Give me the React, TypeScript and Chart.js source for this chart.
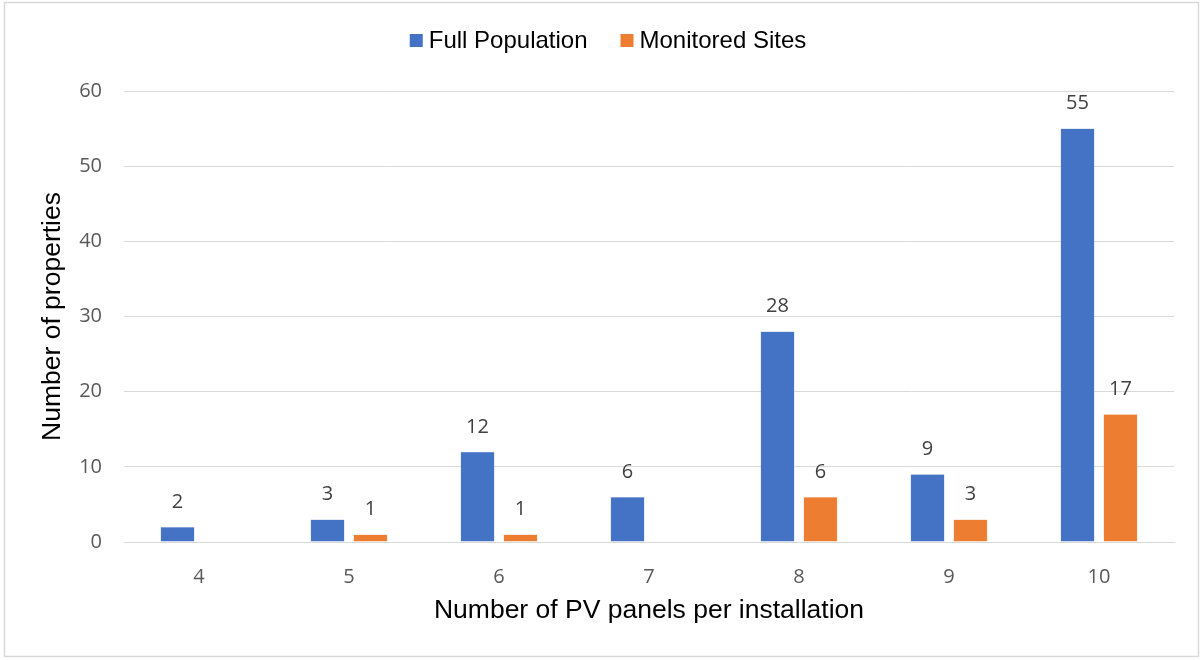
import React, { useEffect, useRef } from "react";
import { Chart, registerables } from "chart.js";

Chart.register(...registerables);

const categories = ["4", "5", "6", "7", "8", "9", "10"];
const fullPopulation = [2, 3, 12, 6, 28, 9, 55];
const monitoredSites: (number | null)[] = [null, 1, 1, null, 6, 3, 17];
const seriesNames = ["Full Population", "Monitored Sites"];
const seriesColors = ["#4472C4", "#ED7D31"];
const yTicks = { min: 0, max: 60, step: 10 };
const xTitle = "Number of PV panels per installation";
const yTitle = "Number of properties";

const framePlugin = {
  id: "frame",
  beforeDraw(chart: any) {
    const ctx = chart.ctx;
    ctx.save();
    ctx.fillStyle = "#ffffff";
    ctx.fillRect(0, 0, chart.width, chart.height);
    ctx.strokeStyle = "#d9d9d9";
    ctx.lineWidth = 1.5;
    ctx.strokeRect(4.5, 2.5, chart.width - 9, chart.height - 6);
    ctx.restore();
  },
};

const legendPlugin = {
  id: "customLegend",
  afterDraw(chart: any) {
    const ctx = chart.ctx;
    ctx.save();
    ctx.font = "24px 'Liberation Sans', Arial, sans-serif";
    ctx.textBaseline = "middle";
    const box = 13;
    const gapBoxText = 6;
    const gapItems = 33;
    const widths = seriesNames.map((n) => ctx.measureText(n).width);
    const total =
      widths.reduce((a, w) => a + box + gapBoxText + w, 0) + gapItems * (seriesNames.length - 1);
    let x = 608 - total / 2;
    const cy = 40.5;
    seriesNames.forEach((n, i) => {
      ctx.fillStyle = seriesColors[i];
      ctx.fillRect(x, cy - box / 2, box, box);
      x += box + gapBoxText;
      ctx.fillStyle = "#000000";
      ctx.textAlign = "left";
      ctx.fillText(n, x, cy + 1);
      x += widths[i] + gapItems;
    });
    ctx.restore();
  },
};

const dataLabelPlugin = {
  id: "dataLabels",
  afterDatasetsDraw(chart: any) {
    const ctx = chart.ctx;
    ctx.save();
    ctx.font = "20px 'Open Sans', 'Liberation Sans', sans-serif";
    ctx.fillStyle = "#404040";
    ctx.textAlign = "center";
    ctx.textBaseline = "middle";
    chart.data.datasets.forEach((ds: any, di: number) => {
      const meta = chart.getDatasetMeta(di);
      meta.data.forEach((bar: any, i: number) => {
        const v = ds.data[i];
        if (v === null || v === undefined) return;
        ctx.fillText(String(v), bar.x, bar.y - 25);
      });
    });
    ctx.restore();
  },
};

export default function App() {
  const ref = useRef<HTMLCanvasElement | null>(null);

  useEffect(() => {
    document.body.style.margin = "0";
    if (!ref.current) return;
    const chart = new Chart(ref.current, {
      type: "bar",
      data: {
        labels: categories,
        datasets: [
          {
            label: seriesNames[0],
            data: fullPopulation,
            backgroundColor: seriesColors[0],
            borderColor: "#8faadc",
            borderWidth: 0.5,
            categoryPercentage: 0.573,
            barPercentage: 0.79,
          },
          {
            label: seriesNames[1],
            data: monitoredSites,
            backgroundColor: seriesColors[1],
            borderColor: "#f4b183",
            borderWidth: 0.5,
            categoryPercentage: 0.573,
            barPercentage: 0.79,
          },
        ],
      },
      options: {
        responsive: false,
        animation: false,
        layout: { padding: { top: 91, left: 20, right: 29, bottom: 26 } },
        plugins: {
          legend: { display: false },
          tooltip: { enabled: false },
        },
        scales: {
          x: {
            grid: { display: false, drawTicks: false },
            border: { display: true, color: "#d9d9d9", width: 1 },
            ticks: {
              color: "#595959",
              font: { family: "'Open Sans', 'Liberation Sans', sans-serif", size: 20 },
              padding: 23,
            },
            title: {
              display: true,
              text: xTitle,
              color: "#000000",
              font: { family: "'Liberation Sans', Arial, sans-serif", size: 26.5 },
              padding: { top: 0, bottom: 7 },
            },
            afterFit(scale: any) {
              scale.height = 660 - 542 - 26;
            },
          },
          y: {
            min: yTicks.min,
            max: yTicks.max,
            ticks: {
              stepSize: yTicks.step,
              color: "#595959",
              font: { family: "'Open Sans', 'Liberation Sans', sans-serif", size: 20 },
              padding: 22,
            },
            grid: { color: "#d9d9d9", lineWidth: 1, drawTicks: false },
            border: { display: false },
            title: {
              display: true,
              text: yTitle,
              color: "#000000",
              font: { family: "'Liberation Sans', Arial, sans-serif", size: 26.5 },
              padding: { top: 17, bottom: 0 },
            },
            afterFit(scale: any) {
              scale.width = 124 - 20;
            },
          },
        },
      },
      plugins: [framePlugin, legendPlugin, dataLabelPlugin],
    });
    return () => chart.destroy();
  }, []);

  return (
    <div style={{ position: "absolute", left: 0, top: 0, width: 1203, height: 660 }}>
      <canvas ref={ref} width={1203} height={660} style={{ display: "block" }} />
    </div>
  );
}
